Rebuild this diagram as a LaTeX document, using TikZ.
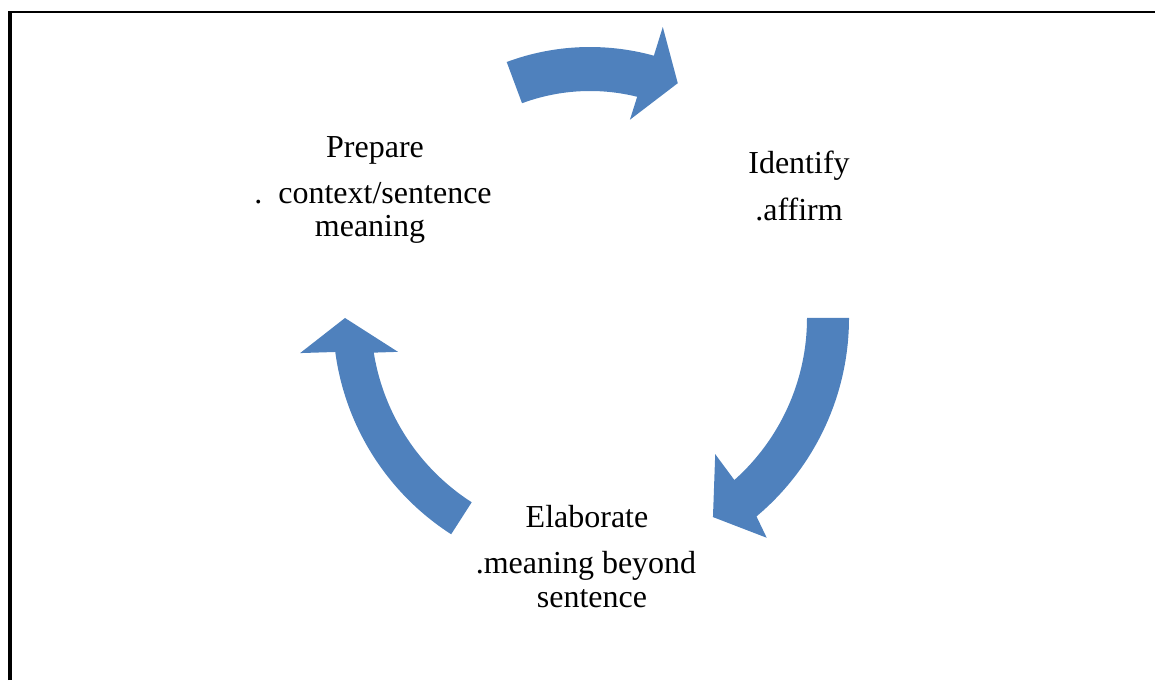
\documentclass[tikz,border=0pt]{standalone}
\usepackage{fontspec}
\setmainfont{Liberation Serif}
\definecolor{cycblue}{HTML}{4F81BD}

\begin{document}
\begin{tikzpicture}[x=1pt,y=1pt,
  flecha/.style={fill=cycblue},
  txt/.style={anchor=base,inner sep=0pt,font=\fontsize{32}{36}\selectfont}]
  \useasboundingbox (0,0) rectangle (1155,680);
  % marco
  \draw[line width=4pt] (10,0)--(10,669);
  \draw[line width=2pt] (8,668)--(1155,668);
  % centros
  \coordinate (ctop) at (590,394);
  \coordinate (cmid) at (590,362);
  % flechas
  \fill[flecha] ([shift={(110.4:239)}]ctop) arc[start angle=110.4,end angle=74.5,radius=239]
    --([shift={(74.3:269)}]ctop)--([shift={(66.6:221)}]ctop)--([shift={(76.5:171)}]ctop)
    --([shift={(76:195)}]ctop) arc[start angle=76,end angle=110.4,radius=195]--cycle;
  \fill[flecha] ([shift={(0:259)}]cmid) arc[start angle=0,end angle=-50,radius=259]
    --([shift={(-51.2:282)}]cmid)--([shift={(-58.3:234)}]cmid)--([shift={(-47.4:185)}]cmid)
    --([shift={(-48.3:217)}]cmid) arc[start angle=-48.3,end angle=0,radius=217]--cycle;
  \fill[flecha] ([shift={(237.3:257)}]cmid) arc[start angle=237.3,end angle=187.6,radius=257]
    --([shift={(186.9:292)}]cmid)--([shift={(180:245)}]cmid)--([shift={(190:195)}]cmid)
    --([shift={(189.1:219)}]cmid) arc[start angle=189.1,end angle=237.3,radius=219]--cycle;
  % textos
  \node[txt] (prep) at (375,522) {Prepare};
  \node[txt] (prep1) at (373,476) {.\hspace{0.5em}context/sentence};
  \node[txt] (prep2) at (370,443) {meaning};
  \node[txt] (iden) at (799,506) {Identify};
  \node[txt] (iden1) at (799,459) {.affirm};
  \node[txt] (elab) at (587,153) {Elaborate};
  \node[txt] (elab1) at (586,107) {.meaning beyond};
  \node[txt] (elab2) at (592,73) {sentence};
\end{tikzpicture}
\end{document}
